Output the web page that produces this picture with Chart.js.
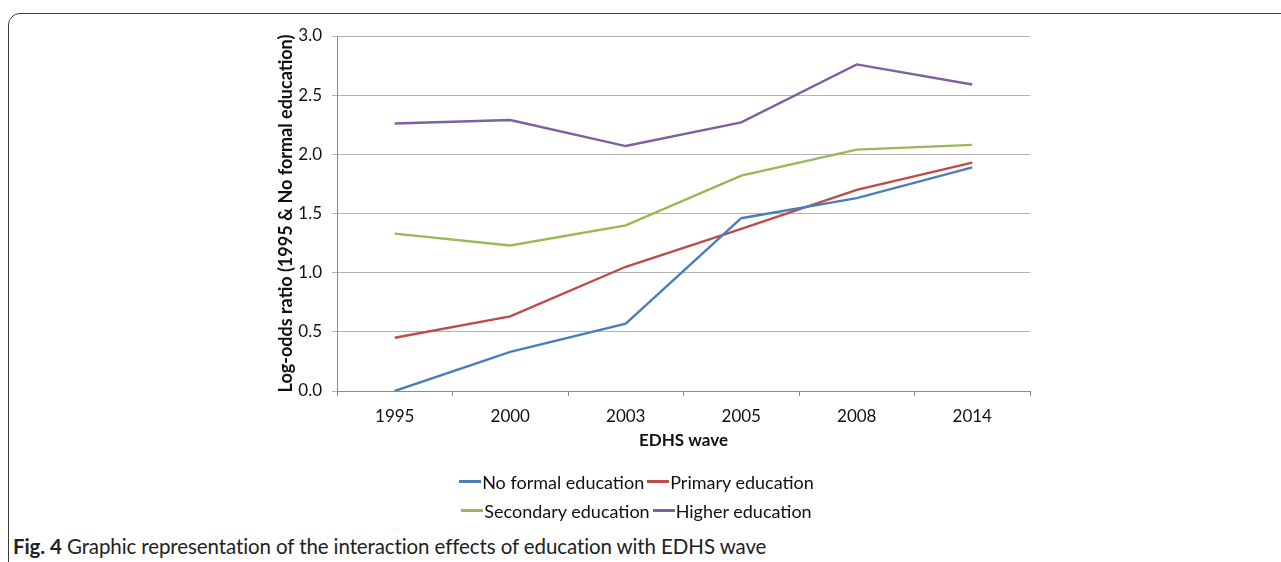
<!DOCTYPE html>
<html>
<head>
<meta charset="utf-8">
<script src="https://cdn.jsdelivr.net/npm/chart.js@4.4.1/dist/chart.umd.min.js"></script>
<style>
  html, body { margin: 0; padding: 0; background: #fff; }
  body { width: 1281px; height: 562px; position: relative; overflow: hidden; font-family: Lato, "Noto Sans", sans-serif; }
  #frame { position: absolute; left: 8px; top: 13px; width: 1400px; height: 700px;
           border: 1.5px solid #3a3a3a; border-radius: 12px; box-sizing: border-box; }
  #wrap { position: absolute; left: 0; top: 0; width: 1281px; height: 470px; }
  #legend { position: absolute; left: 338px; width: 600px; top: 467px; font-size: 18px; color: #111; }
  #legend .row { display: flex; justify-content: center; height: 29px; align-items: center; }
  #legend .item { display: flex; align-items: center; margin-right: 3px; }
  #legend .mark { width: 22px; height: 2.5px; margin-right: 1px; }
  #caption { position: absolute; left: 13px; top: 534px; font-size: 20.5px; color: #222; letter-spacing: -0.1px; }
  #caption b { font-weight: 700; }
</style>
</head>
<body>
<div id="frame"></div>
<div id="wrap"><canvas id="chart"></canvas></div>
<div id="legend"></div>
<div id="caption"><b>Fig. 4</b> Graphic representation of the interaction effects of education with EDHS wave</div>
<script>
// EDHS waves and log-odds ratios
const waves = ["1995", "2000", "2003", "2005", "2008", "2014"];
const noFormal = [0.00, 0.33, 0.57, 1.46, 1.63, 1.89];
const primary = [0.45, 0.63, 1.05, 1.37, 1.70, 1.93];
const secondary = [1.33, 1.23, 1.40, 1.82, 2.04, 2.08];
const higher = [2.26, 2.29, 2.07, 2.27, 2.76, 2.59];
const yTicks = [0, 0.5, 1.0, 1.5, 2.0, 2.5, 3.0];

const FONT = "Lato, 'Noto Sans', sans-serif";

function ds(label, data, color) {
  return { label, data, borderColor: color, backgroundColor: color,
           borderWidth: 2.4, pointRadius: 0, tension: 0, fill: false };
}

const chart = new Chart(document.getElementById("chart"), {
  type: "line",
  data: {
    labels: waves,
    datasets: [
      ds("No formal education", noFormal, "#4a7ebb"),
      ds("Primary education", primary, "#be4b48"),
      ds("Secondary education", secondary, "#98b954"),
      ds("Higher education", higher, "#7d60a0"),
    ],
  },
  options: {
    responsive: true, maintainAspectRatio: false, animation: false,
    layout: { padding: { left: 273, right: 251, top: 36, bottom: 0 } },
    plugins: { legend: { display: false }, tooltip: { enabled: false } },
    scales: {
      x: {
        offset: true,
        grid: { offset: true, drawOnChartArea: false, drawTicks: true, tickLength: 5, color: "#8c8c8c" },
        border: { color: "#8c8c8c", width: 1 },
        ticks: { color: "#111", font: { family: FONT, size: 17 }, padding: 10, maxRotation: 0 },
        title: { display: true, text: "EDHS wave", color: "#111",
                 font: { family: FONT, size: 17, weight: "bold" }, padding: { top: 4, bottom: 19 } },
        afterFit(s) { s.height = 79; },
      },
      y: {
        min: 0, max: 3,
        afterBuildTicks(s) { s.ticks = yTicks.map((v) => ({ value: v })); },
        grid: { color: "#b4b4b4", lineWidth: 1, tickLength: 5 },
        border: { color: "#8c8c8c", width: 1 },
        ticks: { color: "#111", font: { family: FONT, size: 17 }, padding: 10,
                 callback: (v) => Number(v).toFixed(1) },
        title: { display: true, text: "Log-odds ratio (1995 & No formal education)", color: "#111",
                 font: { family: FONT, size: 18, weight: "bold" }, padding: { top: 2, bottom: 2 } },
        afterFit(s) { s.width = 64; },
      },
    },
  },
});

// legend as two rows of two, built from the datasets
const leg = document.getElementById("legend");
const sets = chart.data.datasets;
for (let r = 0; r < sets.length; r += 2) {
  const row = document.createElement("div");
  row.className = "row";
  sets.slice(r, r + 2).forEach((d) => {
    const it = document.createElement("span");
    it.className = "item";
    const m = document.createElement("span");
    m.className = "mark";
    m.style.background = d.borderColor;
    const tx = document.createElement("span");
    tx.textContent = d.label;
    it.appendChild(m); it.appendChild(tx);
    row.appendChild(it);
  });
  leg.appendChild(row);
}
</script>
</body>
</html>
